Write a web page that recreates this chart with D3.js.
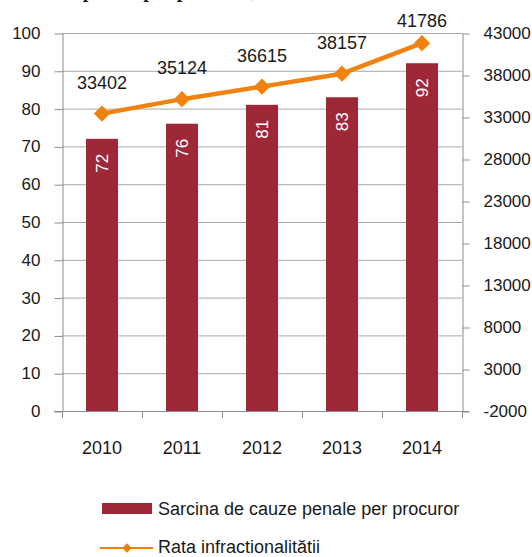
<!DOCTYPE html>
<html>
<head>
<meta charset="utf-8">
<script src="https://cdn.jsdelivr.net/npm/d3@7"></script>
<style>
  html, body { margin: 0; padding: 0; background: #fff; }
  svg { display: block; }
  text { font-family: "Liberation Sans", Arial, sans-serif; fill: #1a1a1a; }
</style>
</head>
<body>
<svg id="chart" width="532" height="557"></svg>
<script>
const years = ["2010", "2011", "2012", "2013", "2014"];
const sarcina = [72, 76, 81, 83, 92];
const rata = [33402, 35124, 36615, 38157, 41786];
const leftTicks = [0, 10, 20, 30, 40, 50, 60, 70, 80, 90, 100];
const rightTicks = [-2000, 3000, 8000, 13000, 18000, 23000, 28000, 33000, 38000, 43000];
const seriesNames = ["Sarcina de cauze penale per procuror", "Rata infractionalitătii"];
const titleText = "Sarcina de cauze penale per procuror,";

const barColor = "#9E2837";
const lineColor = "#F0820F";
const gridColor = "#A8A8A8";
const axisColor = "#8C8C8C";

const svg = d3.select("#chart");
const m = { left: 62, right: 462, top: 33, bottom: 411 };

// title, mostly above the visible area (only descenders show, as in the reference)
svg.append("text")
  .attr("x", 257).attr("y", -3)
  .attr("text-anchor", "end")
  .style("font-family", "'Liberation Serif', 'Times New Roman', serif")
  .style("font-weight", "bold")
  .style("font-size", "20px")
  .text(titleText);

const x = d3.scaleBand().domain(years).range([m.left, m.right]).paddingInner(0).paddingOuter(0);
const yL = d3.scaleLinear().domain([0, 100]).range([m.bottom, m.top]);
const yR = d3.scaleLinear().domain([-2000, 43000]).range([m.bottom, m.top]);

// gridlines
svg.append("g").selectAll("line").data(leftTicks.filter(d => d > 0)).join("line")
  .attr("x1", m.left).attr("x2", m.right)
  .attr("y1", d => yL(d) + 0.5).attr("y2", d => yL(d) + 0.5)
  .attr("stroke", gridColor).attr("stroke-width", 1);

// left axis
const gL = svg.append("g").attr("transform", `translate(${m.left + 0.5},0)`)
  .call(d3.axisLeft(yL).tickValues(leftTicks).tickSize(8).tickPadding(14).tickSizeOuter(0));
gL.select(".domain").attr("stroke", axisColor);
gL.selectAll(".tick line").attr("stroke", axisColor).attr("transform", "translate(0,0.5)");
gL.selectAll(".tick text").style("font-size", "17px").style("font-family", "'Liberation Sans', Arial, sans-serif").attr("fill", "#1a1a1a");

// right axis
const gR = svg.append("g").attr("transform", `translate(${m.right + 0.5},0)`)
  .call(d3.axisRight(yR).tickValues(rightTicks).tickSize(7).tickPadding(14).tickSizeOuter(0).tickFormat(d => String(d)));
gR.select(".domain").attr("stroke", axisColor);
gR.selectAll(".tick line").attr("stroke", axisColor).attr("transform", "translate(0,0.5)");
gR.selectAll(".tick text").style("font-size", "17px").style("font-family", "'Liberation Sans', Arial, sans-serif").attr("fill", "#1a1a1a");

// bars
const bw = x.bandwidth() * 0.4;
svg.append("g").selectAll("rect").data(sarcina).join("rect")
  .attr("x", (d, i) => x(years[i]) + (x.bandwidth() - bw) / 2)
  .attr("y", d => yL(d))
  .attr("width", bw)
  .attr("height", d => yL(0) - yL(d))
  .attr("fill", barColor);

// bar labels (rotated)
svg.append("g").selectAll("text").data(sarcina).join("text")
  .attr("transform", (d, i) => `translate(${x(years[i]) + x.bandwidth() / 2 + 6},${yL(d) + 15}) rotate(-90)`)
  .attr("text-anchor", "end")
  .style("font-size", "17px")
  .style("fill", "#ffffff")
  .text(d => d);

// bottom axis
const gB = svg.append("g").attr("transform", `translate(0,${m.bottom + 0.5})`)
  .call(d3.axisBottom(x).tickSize(0).tickPadding(30).tickSizeOuter(0));
gB.select(".domain").remove();
gB.selectAll(".tick text").style("font-size", "18px").style("font-family", "'Liberation Sans', Arial, sans-serif").attr("fill", "#1a1a1a");
svg.append("line").attr("x1", m.left - 8).attr("x2", m.right + 7)
  .attr("y1", m.bottom + 0.5).attr("y2", m.bottom + 0.5).attr("stroke", axisColor);
svg.append("g").selectAll("line").data(years.concat(["end"])).join("line")
  .attr("x1", (d, i) => (i < years.length ? x(d) : m.right) + 0.5)
  .attr("x2", (d, i) => (i < years.length ? x(d) : m.right) + 0.5)
  .attr("y1", m.bottom).attr("y2", m.bottom + 7)
  .attr("stroke", axisColor);

// line series
const cx = (i) => x(years[i]) + x.bandwidth() / 2;
const line = d3.line().x((d, i) => cx(i)).y(d => yR(d));
svg.append("path").datum(rata)
  .attr("d", line)
  .attr("fill", "none").attr("stroke", lineColor).attr("stroke-width", 4.5).attr("stroke-linejoin", "round");
const diamond = d3.symbol().type(d3.symbolDiamond2).size(170);
svg.append("g").selectAll("path").data(rata).join("path")
  .attr("transform", (d, i) => `translate(${cx(i)},${yR(d)})`)
  .attr("d", diamond)
  .attr("fill", lineColor);

// line labels
svg.append("g").selectAll("text").data(rata).join("text")
  .attr("x", (d, i) => cx(i))
  .attr("y", d => Math.max(yR(d) - 25, 27))
  .attr("text-anchor", "middle")
  .style("font-size", "18px")
  .text(d => d);

// legend
const lg = svg.append("g");
lg.append("rect").attr("x", 102).attr("y", 503).attr("width", 50).attr("height", 11).attr("fill", barColor);
lg.append("text").attr("x", 158).attr("y", 515).style("font-size", "18px").text(seriesNames[0]);
lg.append("line").attr("x1", 100).attr("x2", 153).attr("y1", 548).attr("y2", 548)
  .attr("stroke", lineColor).attr("stroke-width", 2);
lg.append("path").attr("transform", "translate(127,548)").attr("d", d3.symbol().type(d3.symbolDiamond2).size(60)).attr("fill", lineColor);
lg.append("text").attr("x", 158).attr("y", 553).style("font-size", "18px").text(seriesNames[1]);
</script>
</body>
</html>
